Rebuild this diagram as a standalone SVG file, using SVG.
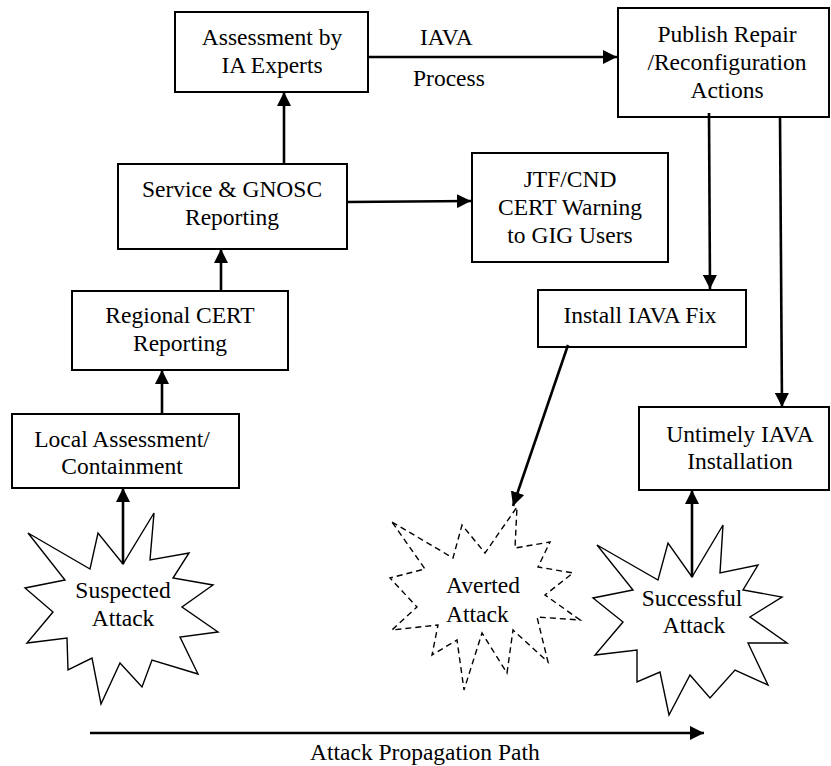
<svg xmlns="http://www.w3.org/2000/svg" width="831" height="766" viewBox="0 0 831 766">
<defs>
<marker id="ah" viewBox="0 0 14 14" markerWidth="14" markerHeight="14" refX="14" refY="7" orient="auto" markerUnits="userSpaceOnUse">
<path d="M0,0 L14,7 L0,14 z" fill="#000"/>
</marker>
<style>
.box{fill:#fff;stroke:#000;stroke-width:2}
.star{fill:#fff;stroke:#000;stroke-width:1.4;stroke-linejoin:miter}
.dash{stroke-dasharray:6 4}
.t{font-family:"Liberation Serif","Times New Roman",serif;font-size:23.5px;fill:#000;text-anchor:middle}
.l{text-anchor:start}
.c{stroke:#000;stroke-width:2.6;fill:none;marker-end:url(#ah)}
</style>
</defs>
<rect width="831" height="766" fill="#fff"/>

<g id="assessment">
<rect class="box" x="175" y="12" width="193" height="80"/>
<text class="t" x="272" y="45">Assessment by</text>
<text class="t" x="272" y="73">IA Experts</text>
</g>

<g id="publish">
<rect class="box" x="618" y="8" width="211" height="109"/>
<text class="t" x="727" y="42">Publish Repair</text>
<text class="t" x="727" y="70">/Reconfiguration</text>
<text class="t" x="727" y="98">Actions</text>
</g>

<g id="service">
<rect class="box" x="118" y="164" width="229" height="85"/>
<text class="t" x="232" y="197">Service &amp; GNOSC</text>
<text class="t" x="232" y="225">Reporting</text>
</g>

<g id="jtf">
<rect class="box" x="472" y="153" width="196" height="109"/>
<text class="t" x="570" y="187">JTF/CND</text>
<text class="t" x="570" y="215">CERT Warning</text>
<text class="t" x="570" y="243">to GIG Users</text>
</g>

<g id="regional">
<rect class="box" x="72" y="291" width="216" height="79"/>
<text class="t" x="180" y="323">Regional CERT</text>
<text class="t" x="180" y="351">Reporting</text>
</g>

<g id="install">
<rect class="box" x="538" y="290" width="208" height="57"/>
<text class="t" x="640" y="323">Install IAVA Fix</text>
</g>

<g id="local">
<rect class="box" x="12" y="414" width="227" height="74"/>
<text class="t" x="122" y="447">Local Assessment/</text>
<text class="t" x="122" y="474">Containment</text>
</g>

<g id="untimely">
<rect class="box" x="639" y="407" width="190" height="83"/>
<text class="t" x="740" y="442">Untimely IAVA</text>
<text class="t" x="740" y="469">Installation</text>
</g>

<g id="suspected">
<polygon class="star" points="28,533 90,569 98,533 123,564 154,513 150,560 189,553 173,578 213,585 182,607 218,632 180,637 198,674 152,660 142,687 120,663 101,704 92,658 68,670 67,638 27,643 53,612 25,588 65,580"/>
<text class="t" x="123" y="598">Suspected</text>
<text class="t" x="123" y="626">Attack</text>
</g>

<g id="averted">
<polygon class="star dash" points="392,522 453,558 462,525 485,553 517,507 515,548 550,542 538,567 573,573 545,595 580,620 537,617 548,662 513,630 507,673 482,633 464,690 457,640 432,655 438,625 392,630 417,607 390,578 425,569"/>
<text class="t l" x="446" y="593">Averted</text>
<text class="t l" x="446" y="622">Attack</text>
</g>

<g id="successful">
<polygon class="star" points="597,545 658,580 668,543 692,577 723,525 720,573 758,565 743,590 782,597 750,617 787,643 748,643 768,685 735,670 710,698 690,675 669,715 660,672 637,682 637,650 595,655 623,622 593,598 633,590"/>
<text class="t" x="692" y="606">Successful</text>
<text class="t" x="694" y="633">Attack</text>
</g>

<g id="connectors">
<line class="c" x1="368" y1="57" x2="617" y2="57"/>
<line class="c" x1="284" y1="164" x2="284" y2="92"/>
<line class="c" x1="221" y1="291" x2="221" y2="249"/>
<line class="c" x1="162" y1="414" x2="162" y2="370"/>
<line class="c" x1="123" y1="564" x2="123" y2="488"/>
<line class="c" x1="347" y1="202" x2="471" y2="201"/>
<line class="c" x1="709" y1="113" x2="710" y2="289"/>
<line class="c" x1="780" y1="117" x2="782" y2="407"/>
<line class="c" x1="568" y1="345" x2="513" y2="506"/>
<line class="c" x1="692" y1="577" x2="692" y2="490"/>
<line class="c" x1="90" y1="733" x2="704" y2="733"/>
</g>

<g id="labels">
<text class="t l" x="420" y="45">IAVA</text>
<text class="t l" x="413" y="86">Process</text>
<text class="t l" x="310" y="760">Attack Propagation Path</text>
</g>
</svg>
